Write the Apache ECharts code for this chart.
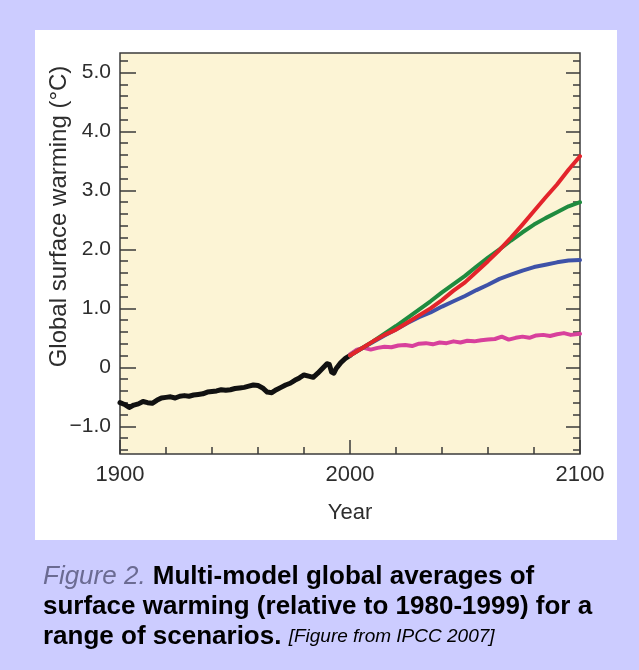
<!DOCTYPE html>
<html><head><meta charset="utf-8">
<script src="https://cdn.jsdelivr.net/npm/echarts@6/dist/echarts.min.js"></script>
<style>html,body{margin:0;padding:0;background:#ccccff}#c{width:639px;height:670px}</style>
</head><body><div id="c"></div>
<script>
// ---- data ----
const histYears = [1900,1902,1904,1906,1908,1910,1912,1914,1916,1918,1920,1922,1924,1926,1928,1930,1932,1934,1936,1938,1940,1942,1944,1946,1948,1950,1952,1954,1956,1958,1960,1962,1964,1966,1968,1970,1972,1974,1976,1978,1980,1982,1984,1986,1988,1990,1991,1992,1993,1994,1996,1998,2000];
const histTemps = [-0.60,-0.63,-0.68,-0.64,-0.62,-0.58,-0.60,-0.61,-0.56,-0.52,-0.51,-0.50,-0.52,-0.49,-0.48,-0.49,-0.47,-0.46,-0.45,-0.42,-0.41,-0.40,-0.38,-0.39,-0.38,-0.36,-0.35,-0.34,-0.32,-0.30,-0.31,-0.35,-0.42,-0.43,-0.38,-0.34,-0.30,-0.27,-0.22,-0.18,-0.13,-0.15,-0.17,-0.10,-0.02,0.06,0.05,-0.08,-0.10,-0.02,0.08,0.15,0.20];

const scenarioYears = [2000,2005,2010,2015,2020,2025,2030,2035,2040,2045,2050,2055,2060,2065,2070,2075,2080,2085,2090,2095,2100];
const scenarioA2  = [0.20,0.32,0.44,0.55,0.64,0.76,0.88,1.00,1.14,1.30,1.44,1.62,1.80,1.99,2.20,2.42,2.65,2.88,3.10,3.35,3.58];
const scenarioA1B = [0.20,0.32,0.44,0.57,0.70,0.84,0.98,1.12,1.27,1.41,1.55,1.71,1.86,2.00,2.15,2.29,2.42,2.53,2.63,2.73,2.80];
const scenarioB1  = [0.20,0.32,0.43,0.54,0.64,0.75,0.85,0.93,1.03,1.12,1.21,1.31,1.40,1.50,1.57,1.64,1.70,1.74,1.78,1.81,1.82];

const commitYears = [2000,2003,2006,2009,2012,2015,2018,2021,2024,2027,2030,2033,2036,2039,2042,2045,2048,2051,2054,2057,2060,2063,2066,2069,2072,2075,2078,2081,2084,2087,2090,2093,2096,2100];
const commitTemps = [0.22,0.30,0.33,0.30,0.33,0.35,0.34,0.37,0.38,0.36,0.40,0.41,0.39,0.42,0.41,0.44,0.42,0.45,0.44,0.46,0.47,0.48,0.52,0.47,0.50,0.52,0.50,0.54,0.55,0.53,0.56,0.58,0.55,0.57];

const yMajorTicks = [-1,0,1,2,3,4,5];
const yMinorTicks = [-1.4,-1.2,-1,-0.8,-0.6,-0.4,-0.2,0,0.2,0.4,0.6,0.8,1,1.2,1.4,1.6,1.8,2,2.2,2.4,2.6,2.8,3,3.2,3.4,3.6,3.8,4,4.2,4.4,4.6,4.8,5,5.2];

// ---- chart ----
const FONT = '"Liberation Sans", Arial, Helvetica, sans-serif';
const pairs = (xs, ys) => xs.map((x, i) => [x, ys[i]]);
const TXT = '#2d2d2d';
const AX = '#3a3a3a';
const Y_MIN = -1.47, Y_MAX = 5.33;

function yAxisBase(pos, ticks, len, labels) {
  return {
    type: 'value', min: Y_MIN, max: Y_MAX, position: pos,
    axisLine: {show: false, onZero: false}, splitLine: {show: false},
    axisTick: {show: true, inside: true, length: len, customValues: ticks, lineStyle: {color: AX, width: 1.5}},
    axisLabel: labels ? {show: true, customValues: ticks, fontSize: 21, color: TXT, margin: 9,
      formatter: v => v === 0 ? '0' : (v < 0 ? '\u2212' + Math.abs(v).toFixed(1) : v.toFixed(1))} : {show: false}
  };
}

const lineSeries = (name, data, color, w, z) => ({
  name, type: 'line', data, showSymbol: false, symbol: 'none', smooth: false, z,
  lineStyle: {color, width: w, cap: 'round', join: 'round'}, xAxisIndex: 0, yAxisIndex: 0
});

const option = {
  backgroundColor: '#ccccff',
  animation: false,
  textStyle: {fontFamily: FONT},
  graphic: [{type: 'rect', z: -10, silent: true, shape: {x: 35, y: 30, width: 582, height: 510}, style: {fill: '#ffffff'}}],
  title: {
    left: 38, top: 557,
    text: '{f|Figure 2.} {b|Multi-model global averages of}\n{b|surface warming (relative to 1980-1999) for a}\n{b|range of scenarios.} {r|[Figure from IPCC 2007]}',
    textStyle: {
      fontFamily: FONT, fontSize: 26, fontWeight: 'bold', color: '#000', lineHeight: 30,
      rich: {
        f: {fontFamily: FONT, fontStyle: 'italic', fontWeight: 'normal', color: '#6b6b92', fontSize: 26, lineHeight: 30},
        b: {fontFamily: FONT, fontWeight: 'bold', color: '#000', fontSize: 26, lineHeight: 30},
        r: {fontFamily: FONT, fontStyle: 'italic', fontWeight: 'normal', color: '#000', fontSize: 19, lineHeight: 30}
      }
    }
  },
  grid: {left: 120, right: 59, top: 53, bottom: 216, show: true, backgroundColor: '#fcf4d5',
    borderColor: '#3b3b3b', borderWidth: 1.5, containLabel: false, outerBoundsMode: 'none'},
  xAxis: [
    {type: 'value', min: 1900, max: 2100, interval: 100, position: 'bottom',
      name: 'Year', nameLocation: 'middle', nameGap: 48, nameMoveOverlap: false,
      nameTextStyle: {fontSize: 22, color: TXT, fontFamily: FONT},
      axisLine: {show: false, onZero: false}, splitLine: {show: false},
      axisTick: {show: true, inside: true, length: 14, lineStyle: {color: AX, width: 1.5}},
      axisLabel: {fontSize: 22, color: TXT, margin: 10, formatter: v => String(v)}},
    {type: 'value', min: 1900, max: 2100, interval: 20, position: 'bottom',
      axisLine: {show: false, onZero: false}, splitLine: {show: false},
      axisTick: {show: true, inside: true, length: 7, lineStyle: {color: AX, width: 1.5}},
      axisLabel: {show: false}}
  ],
  yAxis: [
    Object.assign(yAxisBase('left', yMajorTicks, 16, true), {
      name: 'Global surface warming (\u00B0C)', nameLocation: 'middle', nameGap: 49, nameMoveOverlap: false,
      nameTextStyle: {fontSize: 24, color: TXT, fontFamily: FONT, padding: [0, 0, 0, 74]}
    }),
    yAxisBase('left', yMinorTicks, 8, false),
    yAxisBase('right', yMajorTicks, 14, false),
    yAxisBase('right', yMinorTicks, 7, false)
  ],
  series: [
    lineSeries('Observed (20th century)', pairs(histYears, histTemps), '#111111', 5, 3),
    lineSeries('Constant composition commitment', pairs(commitYears, commitTemps), '#d8409c', 4, 3),
    lineSeries('B1', pairs(scenarioYears, scenarioB1), '#3e52a8', 4, 4),
    lineSeries('A1B', pairs(scenarioYears, scenarioA1B), '#1f8b3f', 4, 5),
    lineSeries('A2', pairs(scenarioYears, scenarioA2), '#e3242b', 4, 6)
  ]
};
const chart = echarts.init(document.getElementById('c'), null, {renderer: 'canvas'});
chart.setOption(option);
</script>
</body></html>
